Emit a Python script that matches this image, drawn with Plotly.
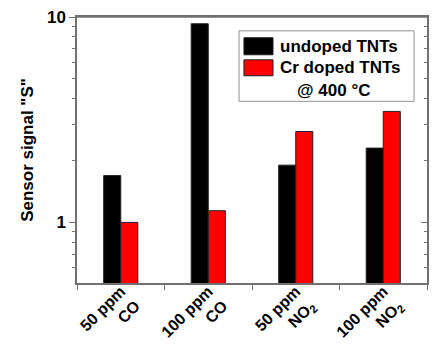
import plotly.graph_objects as go

# ---- data ----
categories = ["50 ppm<br>CO", "100 ppm<br>CO", "50 ppm<br>NO<sub>2</sub>", "100 ppm<br>NO<sub>2</sub>"]
undoped = [1.69, 9.27, 1.90, 2.30]
cr_doped = [1.00, 1.14, 2.77, 3.47]
series_names = ["undoped TNTs", "Cr doped TNTs"]
series_colors = ["#000000", "#ff0000"]
legend_note = "@ 400 °C"
y_minor_vals = [0.6, 0.7, 0.8, 0.9, 2, 3, 4, 5, 6, 7, 8, 9]

FONT = "Arial, Liberation Sans, sans-serif"
AX = "#707070"
FS = 17

fig = go.Figure()
for name, vals, col in zip(series_names, [undoped, cr_doped], series_colors):
    fig.add_trace(go.Bar(x=categories, y=vals, name=name, marker_color=col,
                         marker_line=dict(color="#202020", width=1), showlegend=False))

# empty helper trace so that the right tick axis gets drawn
fig.add_trace(go.Scatter(x=[None], y=[None], xaxis="x", yaxis="y2", mode="markers",
                         showlegend=False, hoverinfo="skip"))

tick_common = dict(tickcolor=AX, tickwidth=1.2, showgrid=False, zeroline=False, automargin=False)
yminor = lambda d: dict(ticks=d, tickmode="array", tickvals=y_minor_vals, ticklen=3,
                        tickcolor=AX, tickwidth=1.2, showgrid=False)

fig.update_layout(
    template="none",
    width=433, height=345,
    margin=dict(l=77, r=6, t=17, b=62),
    paper_bgcolor="white", plot_bgcolor="white",
    font=dict(family=FONT, color="black", size=FS),
    barmode="group", bargap=0.61, bargroupgap=0,
    showlegend=False,
    xaxis=dict(type="category", range=[-0.5, 3.5], ticks="outside", tickson="boundaries", ticklen=5,
               showline=True, mirror=True, linecolor=AX, linewidth=1.5, tickangle=-45, ticklabelstandoff=-9,
               tickfont=dict(family=FONT, size=16, color="black", weight="bold"),
               **tick_common),
    yaxis=dict(type="log", range=[-0.295, 1], tick0=0, dtick=1,
               ticks="outside", ticklen=6, minor=yminor("outside"),
               showline=True, linecolor=AX, linewidth=1.5,
               tickfont=dict(family=FONT, size=FS, color="black", weight="bold"),
               title=dict(text="Sensor signal \"S\"", font=dict(family=FONT, size=FS, weight="bold")),
               **tick_common),
    yaxis2=dict(overlaying="y", anchor="x", side="right", type="log", range=[-0.295, 1],
                showticklabels=False, tick0=0, dtick=1, ticks="inside", ticklen=6, minor=yminor("inside"),
                showline=True, linecolor=AX, linewidth=1.5, **tick_common),
)

# top frame line of the plot area
fig.add_shape(type="line", xref="paper", yref="paper", x0=0, x1=1, y0=1, y1=1,
              line=dict(color=AX, width=1.5), layer="above")

# manual legend
fig.add_shape(type="rect", xref="paper", yref="paper", x0=0.463, x1=0.963, y0=0.683, y1=0.948,
              line=dict(color="#909090", width=1), fillcolor="white", layer="above")
legend_rows = [(0.922, 0.858, 0.888), (0.839, 0.779, 0.809)]
for (ya, yb, yt), name, col in zip(legend_rows, series_names, series_colors):
    fig.add_shape(type="rect", xref="paper", yref="paper", x0=0.477, x1=0.56, y0=yb, y1=ya,
                  fillcolor=col, line=dict(color="#202020", width=1), layer="above")
    fig.add_annotation(xref="paper", yref="paper", x=0.574, y=yt, xanchor="left", yanchor="middle",
                       text="<b>" + name + "</b>", showarrow=False, font=dict(family=FONT, size=FS))
fig.add_annotation(xref="paper", yref="paper", x=0.734, y=0.723, xanchor="center", yanchor="middle",
                   text="<b>" + legend_note + "</b>", showarrow=False, font=dict(family=FONT, size=FS))

fig.write_html("out.html", config={"displayModeBar": False},
               post_script="document.body.style.margin='0px';document.body.style.overflow='hidden';")
